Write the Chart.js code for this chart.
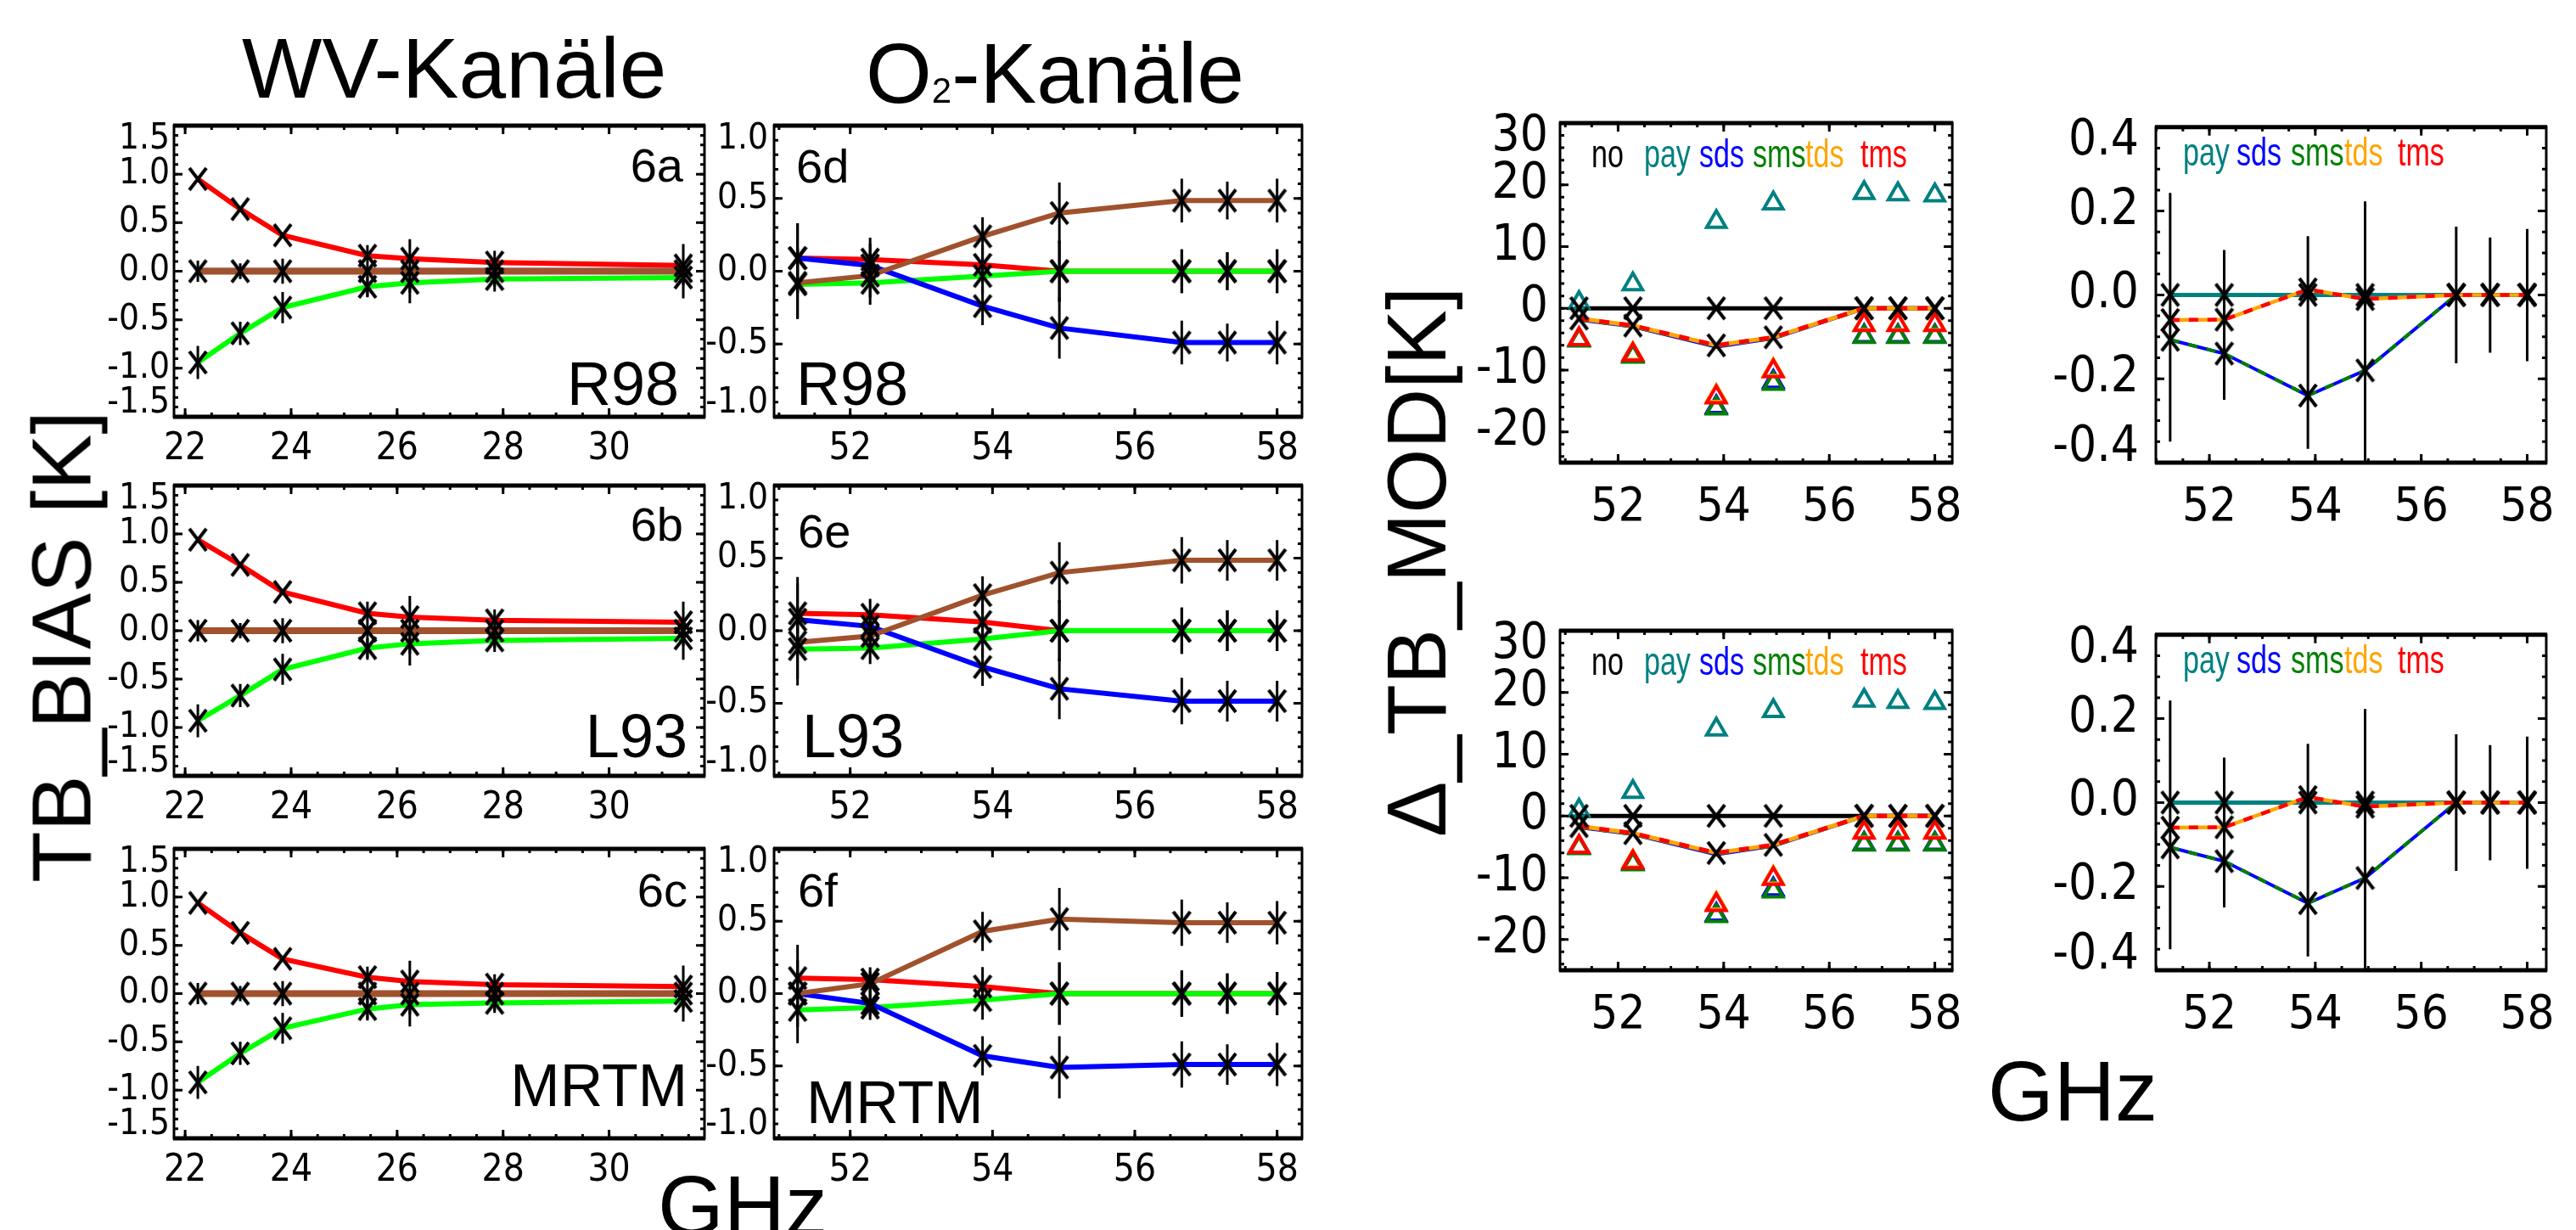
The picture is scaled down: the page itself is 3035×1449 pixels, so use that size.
<!DOCTYPE html>
<html>
<head>
<meta charset="utf-8">
<script src="https://cdn.jsdelivr.net/npm/chart.js@4.4.0/dist/chart.umd.min.js"></script>
<style>
  body { margin: 0; background: #fff; width: 3035px; height: 1449px; overflow: hidden; position: relative;
         font-family: "Liberation Sans", Arial, sans-serif; }
  canvas { position: absolute; }
  .t { position: absolute; white-space: nowrap; line-height: 1; color: #000; }
  .nar { transform: scaleX(0.74); transform-origin: 0 0; }
</style>
</head>
<body>
<script>
// channels (GHz)
const wvFreq = [22.24, 23.04, 23.84, 25.44, 26.24, 27.84, 31.40];
const o2Freq = [51.26, 52.28, 53.86, 54.94, 56.66, 57.30, 58.00];

// tick labels
const wvXTicks = [22, 24, 26, 28, 30];
const o2XTicks = [52, 54, 56, 58];
const wvYTicks = [-1.5, -1.0, -0.5, 0.0, 0.5, 1.0, 1.5];
const o2YTicks = [-1.0, -0.5, 0.0, 0.5, 1.0];
const modYTicks = [-20, -10, 0, 10, 20, 30];
const difYTicks = [-0.4, -0.2, 0.0, 0.2, 0.4];

// WV-Kanaele, TB_BIAS [K]
const wvRedR98   = [0.95, 0.64, 0.37, 0.16, 0.13, 0.09, 0.06];
const wvGreenR98 = [-0.94, -0.64, -0.375, -0.16, -0.12, -0.08, -0.065];
const wvBlueR98  = [0.02, 0.02, 0.02, 0.02, 0.02, 0.02, 0.02];
const wvBrownR98 = [0, 0, 0, 0, 0, 0, 0];
const wvErrR98   = [0.11, 0.08, 0.13, 0.27, 0.33, 0.21, 0.28];

const wvRedL93   = [0.94, 0.68, 0.40, 0.18, 0.14, 0.107, 0.087];
const wvGreenL93 = [-0.93, -0.67, -0.40, -0.18, -0.135, -0.10, -0.08];
const wvBlueL93  = [0.01, 0.01, 0.01, 0.01, 0.01, 0.01, 0.01];
const wvBrownL93 = [0, 0, 0, 0, 0, 0, 0];
const wvErrL93   = [0.11, 0.08, 0.13, 0.30, 0.36, 0.22, 0.30];

const wvRedMRTM   = [0.94, 0.63, 0.36, 0.17, 0.125, 0.093, 0.073];
const wvGreenMRTM = [-0.92, -0.62, -0.36, -0.16, -0.115, -0.096, -0.076];
const wvBlueMRTM  = [0.005, 0.005, 0.005, 0.005, 0.005, 0.005, 0.005];
const wvBrownMRTM = [0, 0, 0, 0, 0, 0, 0];
const wvErrMRTM   = [0.11, 0.08, 0.13, 0.28, 0.34, 0.20, 0.29];

const wvErrGreen = [0.17, 0.12, 0.16, 0.10, 0.10, 0.08, 0.08];

// O2-Kanaele
const o2RedR98   = [0.09, 0.08, 0.044, 0, 0, 0, 0];
const o2BlueR98  = [0.09, 0.04, -0.24, -0.39, -0.49, -0.49, -0.49];
const o2GreenR98 = [-0.09, -0.08, -0.033, 0, 0, 0, 0];
const o2BrownR98 = [-0.08, -0.03, 0.24, 0.40, 0.485, 0.485, 0.485];
const o2ErrR98   = [0.24, 0.15, 0.13, 0.21, 0.15, 0.13, 0.15];

const o2RedL93   = [0.12, 0.11, 0.06, 0, 0, 0, 0];
const o2BlueL93  = [0.076, 0.03, -0.25, -0.40, -0.485, -0.485, -0.485];
const o2GreenL93 = [-0.127, -0.12, -0.057, 0, 0, 0, 0];
const o2BrownL93 = [-0.08, -0.037, 0.245, 0.40, 0.485, 0.485, 0.485];
const o2ErrL93   = [0.25, 0.11, 0.13, 0.21, 0.16, 0.14, 0.14];

const o2RedMRTM   = [0.107, 0.097, 0.049, 0, 0, 0, 0];
const o2BlueMRTM  = [0, -0.068, -0.43, -0.51, -0.49, -0.49, -0.49];
const o2GreenMRTM = [-0.113, -0.097, -0.045, 0, 0, 0, 0];
const o2BrownMRTM = [0, 0.068, 0.43, 0.515, 0.49, 0.49, 0.49];
const o2ErrMRTM   = [0.23, 0.085, 0.135, 0.215, 0.16, 0.14, 0.15];

// Delta_TB_MOD [K], lines and triangles
const modNo    = [0, 0, 0, 0, 0, 0, 0];
const modLnSds = [-1.8, -2.9, -6.2, -4.8, 0, 0, 0];
const modLnSms = [-1.8, -2.9, -6.1, -4.8, 0, 0, 0];
const modLnTds = [-1.66, -2.8, -6.0, -4.7, 0, 0, 0];
const modLnTms = [-1.66, -2.8, -6.0, -4.7, 0, 0, 0];
const modTrPay = [0.9, 3.9, 14.0, 17.0, 18.7, 18.5, 18.3];
const modTrSds = [-5.1, -7.7, -16.0, -11.9, -4.5, -4.5, -4.5];
const modTrSms = [-5.2, -7.8, -16.2, -12.2, -4.6, -4.6, -4.6];
const modTrTds = [-5.0, -7.4, -14.2, -10.0, -2.6, -2.6, -2.6];
const modTrTms = [-5.0, -7.5, -14.4, -10.2, -2.7, -2.7, -2.7];

// small differences panel
const difPay   = [0, 0, 0, 0, 0, 0, 0];
const difSds   = [-0.107, -0.14, -0.24, -0.18, 0, 0, 0];
const difSms   = [-0.107, -0.14, -0.24, -0.18, 0, 0, 0];
const difTds   = [-0.06, -0.059, 0.013, -0.01, 0, 0, 0];
const difTms   = [-0.06, -0.059, 0.013, -0.01, 0, 0, 0];
const difErrLo = [-0.35, -0.25, -0.367, -0.42, -0.163, -0.138, -0.158];
const difErrHi = [0.243, 0.107, 0.14, 0.223, 0.163, 0.137, 0.157];

const TICKFONT = '"Liberation Sans Narrow", "DejaVu Sans Condensed", "Liberation Sans", sans-serif';
const RED = '#ff0000', GREEN = '#00ff00', BLUE = '#0000ff', BROWN = '#a0522d';
const TEAL = '#008080', DGREEN = '#008000', ORANGE = '#ffa500';

// tall X marker like the IDL psym
const xMark = document.createElement('canvas');
xMark.width = 24; xMark.height = 30;
(function () {
  const c = xMark.getContext('2d');
  c.strokeStyle = '#000'; c.lineWidth = 4;
  c.beginPath();
  c.moveTo(2, 2); c.lineTo(22, 28);
  c.moveTo(22, 2); c.lineTo(2, 28);
  c.stroke();
})();

const pts = (xs, ys) => xs.map((x, i) => ({ x: x, y: ys[i] }));

function line(xs, ys, color, width, dash) {
  return { data: pts(xs, ys), borderColor: color, borderWidth: width, borderDash: dash || [],
           pointRadius: 0, fill: false, tension: 0 };
}
function marks(xs, ys) {
  return { data: pts(xs, ys), showLine: false, pointStyle: xMark, pointRadius: 10, clip: false };
}
function tri(xs, ys, color) {
  return { data: pts(xs, ys), showLine: false, pointStyle: 'triangle', pointRadius: 13,
           pointBorderWidth: 4, pointBorderColor: color, pointBackgroundColor: 'rgba(0,0,0,0)' };
}
function bars(xs, lo, hi) {
  const d = [];
  xs.forEach((x, i) => { d.push({ x: x, y: lo[i] }, { x: x, y: hi[i] }, { x: x, y: null }); });
  return { data: d, borderColor: '#000', borderWidth: 3, pointRadius: 0, spanGaps: false };
}
function barsAround(xs, ys, err) {
  return bars(xs, ys.map((v, i) => v - err[i]), ys.map((v, i) => v + err[i]));
}

// IDL style frame: thick top/bottom, ticks pointing inwards on all sides
const idlFrame = {
  id: 'idlFrame',
  afterDatasetsDraw(chart, args, o) {
    const { ctx, chartArea: a } = chart;
    const x = chart.scales.x, y = chart.scales.y;
    const minor = (s, step) => {
      const out = [];
      for (let k = Math.ceil(s.min / step - 1e-6); k * step <= s.max + 1e-9; k++) out.push(k * step);
      return out;
    };
    ctx.save();
    ctx.strokeStyle = '#000';
    ctx.lineWidth = 3;
    const xt = (vals, len) => vals.forEach(v => {
      const p = x.getPixelForValue(v);
      ctx.beginPath();
      ctx.moveTo(p, a.top); ctx.lineTo(p, a.top + len);
      ctx.moveTo(p, a.bottom); ctx.lineTo(p, a.bottom - len);
      ctx.stroke();
    });
    const yt = (vals, len) => vals.forEach(v => {
      const p = y.getPixelForValue(v);
      ctx.beginPath();
      ctx.moveTo(a.left, p); ctx.lineTo(a.left + len, p);
      ctx.moveTo(a.right, p); ctx.lineTo(a.right - len, p);
      ctx.stroke();
    });
    xt(minor(x, o.xMinor), 5);
    xt(o.xMajor, 10);
    yt(minor(y, o.yMinor), 5);
    yt(o.yMajor, 10);
    ctx.lineWidth = 3;
    ctx.strokeRect(a.left, a.top, a.right - a.left, a.bottom - a.top);
    ctx.lineWidth = 5;
    ctx.beginPath();
    ctx.moveTo(a.left - 1, a.top); ctx.lineTo(a.right + 1, a.top);
    ctx.moveTo(a.left - 1, a.bottom); ctx.lineTo(a.right + 1, a.bottom);
    ctx.stroke();
    ctx.restore();
  }
};

function fmtY(v, dec) { return dec ? v.toFixed(dec) : String(Math.round(v)); }

function panel(box, o) {
  const padT = 50, padR = 30, padB = 100;
  const cv = document.createElement('canvas');
  const w = box.w + o.padL + padR, h = box.h + padT + padB;
  cv.width = w; cv.height = h;
  cv.style.width = w + 'px'; cv.style.height = h + 'px';
  cv.style.left = (box.l - o.padL) + 'px';
  cv.style.top = (box.t - padT) + 'px';
  document.body.appendChild(cv);
  const yMin = o.yRange[0], yMax = o.yRange[1];
  new Chart(cv, {
    type: 'line',
    // listed bottom-to-top; Chart.js paints dataset 0 last, so reverse
    data: { datasets: o.datasets.slice().reverse() },
    options: {
      responsive: false, animation: false, devicePixelRatio: 1,
      layout: { padding: { top: padT, right: padR, left: 0, bottom: 0 } },
      plugins: {
        legend: { display: false }, tooltip: { enabled: false },
        idlFrame: { xMajor: o.xTicks, xMinor: 0.5, yMajor: o.yTicks, yMinor: o.yMinor }
      },
      scales: {
        x: {
          type: 'linear', min: o.xRange[0], max: o.xRange[1],
          grid: { display: false, drawTicks: false }, border: { display: false },
          afterBuildTicks: s => { s.ticks = o.xTicks.map(v => ({ value: v })); },
          afterFit: s => { s.height = padB; },
          ticks: { color: '#000', autoSkip: false, maxRotation: 0, padding: o.xPad,
                   font: { family: TICKFONT, size: o.xFont, lineHeight: 1 },
                   callback: v => String(v) }
        },
        y: {
          type: 'linear', min: yMin, max: yMax,
          grid: { display: false, drawTicks: false }, border: { display: false },
          afterBuildTicks: s => { s.ticks = o.yTicks.map(v => ({ value: v })); },
          afterFit: s => { s.width = o.padL; },
          ticks: { color: '#000', autoSkip: false, padding: o.yPad,
                   font: { family: TICKFONT, size: o.yFont, lineHeight: o.yLH },
                   callback: v => {
                     const s = fmtY(v, o.dec);
                     if (Math.abs(v - yMax) < 1e-9) return ['', s];
                     if (Math.abs(v - yMin) < 1e-9) return [s, ''];
                     return s;
                   } }
        }
      }
    },
    plugins: [idlFrame]
  });
}

function wvPanel(t, h, red, green, blue, brown, err) {
  panel({ l: 205, t: t, w: 625, h: h }, {
    padL: 110, xRange: [21.79, 31.8], yRange: [-1.5, 1.5], xTicks: wvXTicks, yTicks: wvYTicks,
    yMinor: 0.1, dec: 1, xPad: 17, xFont: 44, yPad: 5, yFont: 42, yLH: 0.75,
    datasets: [
      line(wvFreq, red, RED, 6), line(wvFreq, green, GREEN, 6),
      line(wvFreq, blue, BLUE, 3), line(wvFreq, brown, BROWN, 8),
      barsAround(wvFreq, brown, err), barsAround(wvFreq, green, wvErrGreen),
      marks(wvFreq, red), marks(wvFreq, green), marks(wvFreq, brown)
    ]
  });
}

function o2Panel(t, h, red, blue, green, brown, err) {
  panel({ l: 912, t: t, w: 622, h: h }, {
    padL: 100, xRange: [50.93, 58.35], yRange: [-1, 1], xTicks: o2XTicks, yTicks: o2YTicks,
    yMinor: 0.1, dec: 1, xPad: 17, xFont: 44, yPad: 7, yFont: 42, yLH: 0.75,
    datasets: [
      line(o2Freq, red, RED, 6), line(o2Freq, green, GREEN, 6),
      line(o2Freq, blue, BLUE, 6), line(o2Freq, brown, BROWN, 6),
      barsAround(o2Freq, red, err), barsAround(o2Freq, green, err),
      barsAround(o2Freq, blue, err), barsAround(o2Freq, brown, err),
      marks(o2Freq, red), marks(o2Freq, green), marks(o2Freq, blue), marks(o2Freq, brown)
    ]
  });
}

function modPanel(t) {
  panel({ l: 1838, t: t, w: 470, h: 400 }, {
    padL: 120, xRange: [50.90, 58.33], yRange: [-25, 30], xTicks: o2XTicks, yTicks: modYTicks,
    yMinor: 2, dec: 0, xPad: 25, xFont: 56, yPad: 14, yFont: 58, yLH: 0.6,
    datasets: [
      line(o2Freq, modNo, '#000', 5),
      line(o2Freq, modLnSds, BLUE, 5), line(o2Freq, modLnSms, DGREEN, 5, [12, 12]),
      line(o2Freq, modLnTds, ORANGE, 5), line(o2Freq, modLnTms, RED, 5, [12, 12]),
      tri(o2Freq, modTrPay, TEAL), tri(o2Freq, modTrSds, BLUE), tri(o2Freq, modTrSms, DGREEN),
      tri(o2Freq, modTrTds, ORANGE), tri(o2Freq, modTrTms, RED),
      marks(o2Freq, modNo), marks(o2Freq, modLnTds)
    ]
  });
}

function difPanel(t) {
  panel({ l: 2540, t: t, w: 466, h: 400 }, {
    padL: 120, xRange: [50.99, 58.36], yRange: [-0.4, 0.4], xTicks: o2XTicks, yTicks: difYTicks,
    yMinor: 0.05, dec: 1, xPad: 25, xFont: 56, yPad: 20, yFont: 58, yLH: 0.6,
    datasets: [
      line(o2Freq, difPay, TEAL, 5),
      line(o2Freq, difSds, BLUE, 4), line(o2Freq, difSms, DGREEN, 4, [11, 11]),
      line(o2Freq, difTds, ORANGE, 4.5), line(o2Freq, difTms, RED, 4.5, [11, 11]),
      bars(o2Freq, difErrLo, difErrHi),
      marks(o2Freq, difPay), marks(o2Freq, difSds), marks(o2Freq, difTds)
    ]
  });
}

wvPanel(148, 343, wvRedR98, wvGreenR98, wvBlueR98, wvBrownR98, wvErrR98);
wvPanel(572, 342, wvRedL93, wvGreenL93, wvBlueL93, wvBrownL93, wvErrL93);
wvPanel(1000, 341, wvRedMRTM, wvGreenMRTM, wvBlueMRTM, wvBrownMRTM, wvErrMRTM);
o2Panel(148, 343, o2RedR98, o2BlueR98, o2GreenR98, o2BrownR98, o2ErrR98);
o2Panel(572, 342, o2RedL93, o2BlueL93, o2GreenL93, o2BrownL93, o2ErrL93);
o2Panel(1000, 341, o2RedMRTM, o2BlueMRTM, o2GreenMRTM, o2BrownMRTM, o2ErrMRTM);
modPanel(145); modPanel(743);
difPanel(145); difPanel(743);

// texts
function txt(s, x, base, size, opt) {
  opt = opt || {};
  const d = document.createElement('div');
  d.className = 't' + (opt.narrow ? ' nar' : '');
  d.innerHTML = s;
  d.style.fontSize = size + 'px';
  d.style.left = x + 'px';
  d.style.top = (base - 0.8465 * size) + 'px';
  if (opt.color) d.style.color = opt.color;
  if (opt.right) d.style.transform = 'translateX(-100%)';
  document.body.appendChild(d);
}
function vtxt(s, cx, cy, size) {
  const d = document.createElement('div');
  d.className = 't';
  d.textContent = s;
  d.style.fontSize = size + 'px';
  d.style.left = cx + 'px';
  d.style.top = cy + 'px';
  d.style.transform = 'translate(-50%, -50%) rotate(-90deg)';
  document.body.appendChild(d);
}

txt('WV-Kanäle', 285, 115, 100);
txt('O<span style="font-size:42px">2</span>-Kanäle', 1020, 121, 100);
vtxt('TB_BIAS [K]', 72, 762, 99);
vtxt('Δ_TB_MOD[K]', 1669, 662, 98);
txt('GHz', 775, 1455, 100);
txt('GHz', 2342, 1320, 100);

txt('6a', 805, 214, 56, { right: true });
txt('R98', 800, 477, 72, { right: true });
txt('6d', 938, 215, 56);
txt('R98', 938, 477, 72);
txt('6b', 805, 637, 56, { right: true });
txt('L93', 810, 892, 72, { right: true });
txt('6e', 940, 645, 56);
txt('L93', 945, 892, 72);
txt('6c', 810, 1068, 56, { right: true });
txt('MRTM', 810, 1303, 70, { right: true });
txt('6f', 940, 1068, 56);
txt('MRTM', 950, 1323, 70);

const legNames  = ['no', 'pay', 'sds', 'sms', 'tds', 'tms'];
const legColors = ['#000', TEAL, BLUE, DGREEN, ORANGE, RED];
const legModX   = [1875, 1937, 2002, 2065, 2127, 2192];
const legDifX   = [null, 2572, 2635, 2699, 2762, 2825];
[197, 795].forEach(b => {
  legNames.forEach((n, i) => {
    txt(n, legModX[i], b, 46, { narrow: true, color: legColors[i] });
    if (legDifX[i] !== null) txt(n, legDifX[i], b - 2, 46, { narrow: true, color: legColors[i] });
  });
});
</script>
</body>
</html>
